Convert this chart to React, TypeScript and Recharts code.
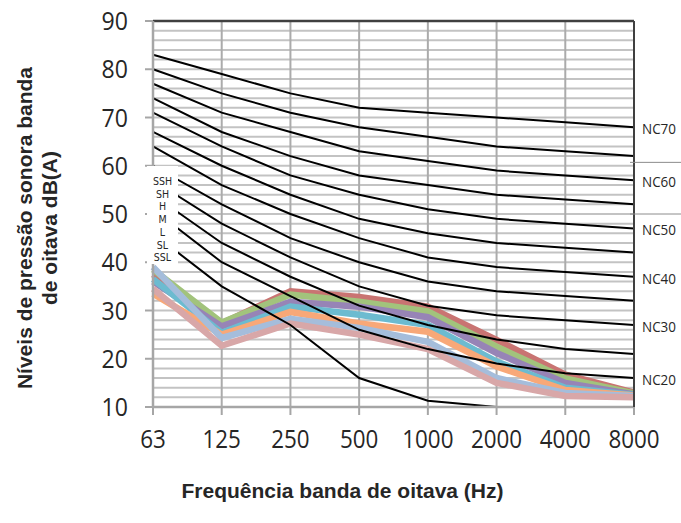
import React from 'react';
import {
  LineChart, Line, XAxis, YAxis, CartesianGrid, ReferenceLine, Legend, Label,
} from 'recharts';

const categories = ['63', '125', '250', '500', '1000', '2000', '4000', '8000'];

// NC reference curves (dB per octave band)
const nc70 = [83, 79, 75, 72, 71, 70, 69, 68];
const nc65 = [80, 75, 71, 68, 66, 64, 63, 62];
const nc60 = [77, 71, 67, 63, 61, 59, 58, 57];
const nc55 = [74, 67, 62, 58, 56, 54, 53, 52];
const nc50 = [71, 64, 58, 54, 51, 49, 48, 47];
const nc45 = [67, 60, 54, 49, 46, 44, 43, 42];
const nc40 = [64, 56, 50, 45, 41, 39, 38, 37];
const nc35 = [60, 52, 45, 40, 36, 34, 33, 32];
const nc30 = [57, 48, 41, 35, 31, 29, 28, 27];
const nc25 = [54, 44, 37, 31, 27, 24, 22, 21];
const nc20 = [51, 40, 33, 26, 22, 19, 17, 16];
const ncLow = [46, 35, 27, 16, 11.3, 10, null, null];

// measured series
const ssh = [37.5, 27.3, 34, 32.8, 30.8, 23.9, 16.7, 13];
const sh = [38.5, 27.5, 33.3, 31.8, 29.8, 22.5, 15.9, 12.8];
const h = [36, 26.7, 31.8, 30.8, 28.6, 21.2, 15, 12.6];
const m = [36.5, 25.4, 30.8, 29.1, 27, 19.4, 14, 12.5];
const l = [33.5, 25, 29.7, 27.3, 25.6, 18.4, 13.5, 12.4];
const sl = [39, 24.3, 28.3, 26.4, 23.5, 16, 12.9, 12.3];
const ssl = [34.5, 22.7, 27.3, 25, 22, 15, 12.3, 12];

const seriesNames = ['SSH', 'SH', 'H', 'M', 'L', 'SL', 'SSL'];
const seriesValues = [ssh, sh, h, m, l, sl, ssl];
const seriesColors = ['#c97472', '#a2c37c', '#9784b6', '#6cbbd0', '#f8a878', '#a5bddb', '#d8a7a8'];

const ncCurves = [nc70, nc65, nc60, nc55, nc50, nc45, nc40, nc35, nc30, nc25, nc20, ncLow];

const yTicks = [10, 20, 30, 40, 50, 60, 70, 80, 90];
const gridValues = [12, 14, 16, 18, 20, 22, 24, 26, 28, 30, 32, 34, 36, 38, 40, 42, 44, 46, 48, 50,
  52, 54, 56, 58, 60, 62, 64, 66, 68, 70, 72, 74, 76, 78, 80, 82, 84, 86, 88];
const ncLabelValues = [68, 57, 47, 37, 27, 16];
const ncLabelTexts = ['NC70', 'NC60', 'NC50', 'NC40', 'NC30', 'NC20'];
const separatorValues = [60.7, 50];

const yTitle1 = 'Níveis de pressão sonora banda';
const yTitle2 = 'de oitava dB(A)';
const xTitle = 'Frequência banda de oitava (Hz)';

const data = categories.map((c, i) => {
  const row: any = { cat: c };
  ncCurves.forEach((arr, k) => { row['nc' + k] = arr[i]; });
  seriesNames.forEach((n, k) => { row[n] = seriesValues[k][i]; });
  return row;
});

const tickFont = "'Open Sans', 'DejaVu Sans', sans-serif";
const titleFont = "'Liberation Sans', Arial, sans-serif";

const XTick = (props: any) => {
  const { x, y, payload } = props;
  const s = String(payload.value);
  return (
    <text x={x} y={y + 33} textAnchor="middle" fontFamily={tickFont} fontSize={26} fill="#262626"
      textLength={s.length * 12.8} lengthAdjust="spacingAndGlyphs">
      {s}
    </text>
  );
};

const YTick = (props: any) => {
  const { x, y, payload } = props;
  const s = String(payload.value);
  return (
    <text x={x} y={y + 9} textAnchor="end" fontFamily={tickFont} fontSize={26} fill="#262626"
      textLength={s.length * 13.2} lengthAdjust="spacingAndGlyphs">
      {s}
    </text>
  );
};

const RightTick = (props: any) => {
  const { x, y, payload } = props;
  const idx = ncLabelValues.indexOf(payload.value);
  if (idx >= 0) {
    return (
      <text x={x} y={y + 7} textAnchor="start" fontFamily={tickFont} fontSize={15} fill="#262626"
        textLength={34} lengthAdjust="spacingAndGlyphs">
        {ncLabelTexts[idx]}
      </text>
    );
  }
  return <line x1={x - 12} x2={x + 47} y1={y} y2={y} stroke="#8c8c8c" strokeWidth={1} />;
};

const LegendBox = () => (
  <div style={{
    background: '#fff', width: 31, height: 98, boxSizing: 'border-box', paddingTop: 9,
    fontFamily: "'DejaVu Sans Condensed', 'Open Sans', sans-serif", fontSize: 10.5, lineHeight: '12.7px',
    textAlign: 'center', color: '#262626',
  }}>
    {seriesNames.map((n) => <div key={n}>{n}</div>)}
  </div>
);

export default function App() {
  return (
    <div style={{ position: 'absolute', left: 0, top: 0, width: 681, height: 523, background: '#fff' }}>
      <LineChart width={681} height={523} data={data} margin={{ top: 21, right: 0, bottom: 0, left: 0 }}>
        <CartesianGrid horizontal={true} vertical={false} horizontalValues={gridValues} stroke="#c3c3c3" strokeWidth={2} yAxisId="left" />
        <CartesianGrid horizontal={false} vertical={true} stroke="#ababab" strokeWidth={2} yAxisId="left" />
        <XAxis
          dataKey="cat"
          height={116}
          tickSize={8}
          tickMargin={0}
          interval={0}
          axisLine={{ stroke: '#a6a6a6', strokeWidth: 2.5 }}
          tickLine={{ stroke: '#a6a6a6', strokeWidth: 2 }}
          tick={<XTick />}
        >
          <Label
            content={(p: any) => {
              const vb = p.viewBox;
              return (
                <text x={vb.x + vb.width / 2 - 51} y={vb.y + 91} textAnchor="middle" fontFamily={titleFont} fontWeight="bold" fontSize={21} fill="#262626">
                  {xTitle}
                </text>
              );
            }}
          />
        </XAxis>
        <YAxis
          yAxisId="left"
          domain={[10, 90]}
          ticks={yTicks}
          width={153}
          tickSize={8}
          tickMargin={17}
          interval={0}
          axisLine={{ stroke: '#a6a6a6', strokeWidth: 2.5 }}
          tickLine={{ stroke: '#a6a6a6', strokeWidth: 2 }}
          tick={<YTick />}
        >
          <Label
            content={() => (
              <g fontFamily={titleFont} fontWeight="bold" fontSize={21} fill="#262626">
                <text x={24} y={228} textAnchor="middle" dominantBaseline="central" transform="rotate(-90 24 228)">{yTitle1}</text>
                <text x={49} y={228} textAnchor="middle" dominantBaseline="central" transform="rotate(-90 49 228)">{yTitle2}</text>
              </g>
            )}
          />
        </YAxis>
        <YAxis
          yAxisId="right"
          orientation="right"
          domain={[10, 90]}
          ticks={[...ncLabelValues, ...separatorValues]}
          width={47}
          interval={0}
          tickLine={false}
          axisLine={{ stroke: '#404040', strokeWidth: 2 }}
          tick={<RightTick />}
        />
        <ReferenceLine yAxisId="left" y={90} stroke="#404040" strokeWidth={2.5} />
        {seriesNames.map((n, k) => (
          <Line
            key={n}
            yAxisId="left"
            dataKey={n}
            stroke={seriesColors[k]}
            strokeWidth={6.5}
            dot={false}
            activeDot={false}
            strokeLinejoin="miter"
            isAnimationActive={false}
          />
        ))}
        {ncCurves.map((_, k) => (
          <Line
            key={'nc' + k}
            yAxisId="right"
            dataKey={'nc' + k}
            stroke="#000"
            strokeWidth={2}
            dot={false}
            activeDot={false}
            isAnimationActive={false}
          />
        ))}
        <Legend
          layout="vertical"
          align="center"
          verticalAlign="middle"
          content={<LegendBox />}
          wrapperStyle={{ left: 147, top: 166, width: 31, height: 98 }}
        />
      </LineChart>
    </div>
  );
}
